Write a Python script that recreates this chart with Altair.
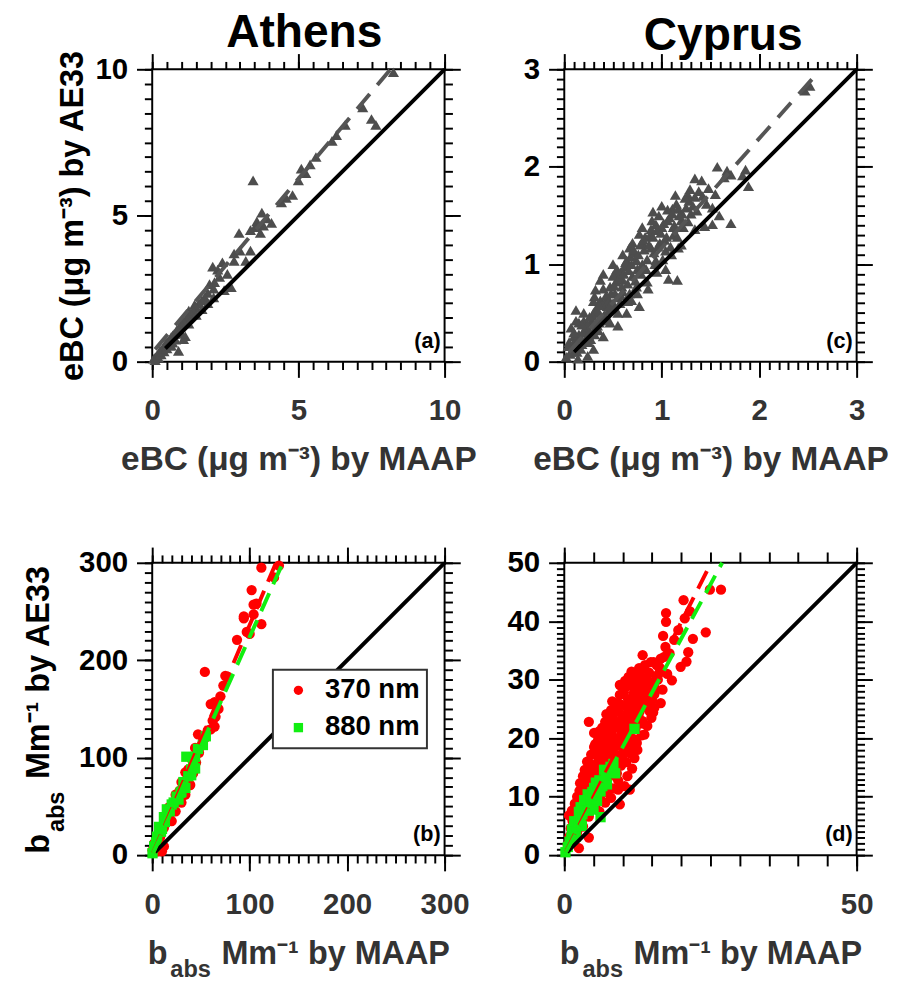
import altair as alt
import pandas as pd

FONT = "Liberation Sans"
W = 298
H = 298

# ---------------- (a) Athens eBC (MAAP, AE33) ----------------
ath_ebc = [(8.25, 9.9), (7.2, 8.7), (7.5, 8.3), (7.65, 8.1), (6.6, 8.1), (6.3, 7.75), (6.15, 7.55),
           (5.6, 7.0), (5.4, 6.75), (5.1, 6.6), (5.25, 6.45), (5.0, 6.2), (3.45, 6.2), (4.8, 5.7),
           (4.58, 5.6), (4.42, 5.45), (3.75, 5.1), (3.92, 4.9), (4.08, 4.75), (3.58, 4.8), (3.52, 4.6),
           (3.8, 4.65), (3.36, 4.5), (2.97, 4.4), (3.7, 4.4), (3.0, 3.8), (3.36, 3.8), (2.8, 3.7),
           (3.2, 3.45), (2.4, 3.4), (2.07, 3.25), (2.24, 3.15), (2.57, 3.0), (2.8, 3.45), (1.96, 2.65),
           (2.13, 2.72), (2.7, 2.55), (2.46, 2.45), (2.3, 2.9), (2.1, 2.5), (1.9, 2.35), (1.8, 2.2),
           (1.7, 2.1), (1.6, 2.0), (1.5, 1.85), (1.45, 1.95), (1.4, 1.75), (1.3, 1.6), (1.25, 1.75),
           (1.2, 1.5), (1.15, 1.45), (1.1, 1.35), (1.05, 1.4), (1.0, 1.25), (0.95, 1.2), (0.9, 1.1),
           (0.85, 1.1), (0.8, 1.0), (0.75, 0.95), (0.7, 0.9), (0.65, 0.85), (0.6, 0.75), (0.55, 0.7),
           (0.5, 0.65), (0.45, 0.6), (0.4, 0.5), (0.35, 0.45), (0.3, 0.4), (0.25, 0.35), (0.2, 0.25),
           (0.15, 0.2), (0.1, 0.15), (0.05, 0.1), (0.1, 0.05), (0.2, 0.15), (0.3, 0.25), (0.4, 0.35),
           (0.5, 0.45), (0.6, 0.55), (0.7, 0.65), (0.8, 0.75), (1.07, 0.77), (0.9, 0.37), (1.13, 0.87),
           (1.25, 1.3), (1.5, 1.6), (1.7, 1.8), (1.9, 2.0), (2.1, 2.2), (0.65, 0.55), (1.0, 0.95)]
ath_ebc_fit_x = [0.1, 8.15]
ath_ebc_fit_y = [0.42, 10.0]
ath_ebc_one = [0.45, 10.0]

# ---------------- (c) Cyprus eBC ----------------
cyp_ebc = [(2.47, 2.78), (2.52, 2.83), (1.57, 2.0), (1.67, 1.96), (1.71, 1.92), (1.64, 1.89), (1.86, 1.97),
           (1.83, 1.91), (1.89, 1.8), (1.34, 1.88), (1.41, 1.86), (1.29, 1.77), (1.27, 1.71), (1.34, 1.69),
           (1.14, 1.71), (1.11, 1.57), (1.06, 1.56), (1.17, 1.57), (1.21, 1.52), (1.59, 1.5), (1.52, 1.41),
           (1.71, 1.42), (1.44, 1.39), (1.34, 1.36), (0.91, 1.54), (0.94, 1.41), (1.0, 1.38), (1.12, 1.38),
           (0.77, 1.31), (0.8, 1.22), (0.89, 1.17), (1.04, 1.14), (1.17, 1.17), (0.67, 1.17), (0.64, 1.04),
           (0.74, 1.04), (0.94, 1.04), (0.5, 1.0), (0.54, 0.9), (0.4, 0.9), (0.37, 0.84), (0.47, 0.77),
           (0.6, 0.84), (0.74, 0.77), (0.86, 0.75), (1.04, 0.95), (1.07, 0.85), (1.16, 0.84), (0.32, 0.74),
           (0.31, 0.67), (0.37, 0.63), (0.12, 0.53), (0.2, 0.5), (0.3, 0.5), (0.44, 0.57), (0.57, 0.6),
           (0.69, 0.63), (0.77, 0.57), (0.64, 0.5), (0.47, 0.4), (0.55, 0.37), (0.34, 0.37), (0.2, 0.3),
           (0.27, 0.23), (0.4, 0.26), (0.1, 0.26), (0.17, 0.13), (0.3, 0.13), (0.07, 0.1), (0.24, 0.06),
           (0.04, 0.16), (0.14, 0.03),
           (0.08, 0.12), (0.12, 0.2), (0.15, 0.28), (0.18, 0.18), (0.22, 0.33), (0.25, 0.27), (0.28, 0.42),
           (0.32, 0.35), (0.35, 0.5), (0.38, 0.44), (0.42, 0.62), (0.45, 0.52), (0.48, 0.7), (0.5, 0.6),
           (0.53, 0.82), (0.55, 0.66), (0.58, 0.92), (0.6, 0.72), (0.62, 0.98), (0.65, 0.8), (0.68, 1.08),
           (0.7, 0.88), (0.72, 1.12), (0.75, 0.95), (0.78, 1.2), (0.8, 1.0), (0.83, 1.28), (0.85, 1.05),
           (0.88, 1.3), (0.92, 1.12), (0.95, 1.35), (0.98, 1.22), (1.02, 1.42), (1.05, 1.28), (1.08, 1.48),
           (1.12, 1.3), (1.15, 1.62), (1.2, 1.45), (1.25, 1.58), (1.3, 1.52), (1.28, 1.65), (0.3, 0.62),
           (0.4, 0.75), (0.5, 0.88), (0.6, 1.1), (0.7, 1.22), (0.8, 1.38), (0.9, 1.45), (1.0, 1.6),
           (0.55, 0.5), (0.65, 0.62), (0.75, 0.7), (0.85, 0.82), (0.95, 0.92), (0.45, 0.42), (0.35, 0.32),
           (0.25, 0.2), (1.1, 1.1), (1.2, 1.2), (0.2, 0.42), (0.15, 0.4), (0.1, 0.3), (0.05, 0.2),
           (0.02, 0.05), (0.06, 0.08), (0.09, 0.18), (0.13, 0.1), (0.16, 0.24), (0.19, 0.3), (0.21, 0.22),
           (0.24, 0.38), (0.26, 0.31), (0.29, 0.47), (0.31, 0.28), (0.33, 0.55), (0.36, 0.4), (0.39, 0.58),
           (0.41, 0.48), (0.43, 0.68), (0.46, 0.63), (0.49, 0.55), (0.51, 0.78), (0.52, 0.7), (0.54, 0.95),
           (0.56, 0.85), (0.59, 0.77), (0.61, 0.9), (0.63, 1.02), (0.66, 0.94), (0.67, 0.7), (0.69, 1.0),
           (0.71, 1.15), (0.73, 0.83), (0.76, 1.1), (0.79, 0.9), (0.81, 1.25), (0.82, 1.15), (0.84, 0.95),
           (0.87, 1.2), (0.89, 1.36), (0.91, 1.28), (0.93, 1.0), (0.96, 1.18), (0.97, 1.5), (0.99, 1.32),
           (1.01, 1.05), (1.03, 1.25), (1.06, 1.45), (1.09, 1.18), (1.11, 1.52), (1.13, 1.4), (1.16, 1.28),
           (1.18, 1.5), (1.22, 1.38), (1.24, 1.68), (1.27, 1.44), (1.32, 1.6), (1.36, 1.55), (1.38, 1.75),
           (1.42, 1.7), (1.46, 1.62), (1.48, 1.78), (1.52, 1.58), (1.55, 1.72), (0.58, 0.68), (0.47, 0.58),
           (0.36, 0.58), (0.26, 0.46), (0.18, 0.38), (0.12, 0.42), (0.07, 0.35)]
cyp_ebc_fit_x = [0.05, 2.57]
cyp_ebc_fit_y = [0.1, 2.93]
cyp_ebc_one = [0.1, 3.0]

# ---------------- (b) Athens b_abs ----------------
ath_370 = [(0.3, 5), (2, 12), (5, 4), (7, 15), (10, 25), (10, 4), (12, 9), (14, 35), (17, 49), (20, 35),
           (24, 45), (24, 62), (30, 54), (34, 62), (30, 75), (39, 72), (34, 85), (42, 84), (40, 99),
           (45, 95), (44, 110), (47, 124), (54, 120), (60, 129), (64, 132), (65, 142), (60, 155),
           (64, 157), (73, 174), (75, 184), (54, 188), (77, 183), (87, 221), (94, 245), (97, 229),
           (104, 257), (102, 272), (112, 237), (100, 227), (104, 247), (107, 258), (112, 295), (125, 285),
           (130, 297), (94, 243), (3, 8), (8, 18), (12, 28), (16, 38), (18, 42), (22, 52), (26, 58),
           (28, 66), (32, 70), (36, 78), (37, 88), (43, 96), (48, 105), (50, 112), (52, 117), (57, 128),
           (62, 138), (68, 150), (70, 163)]
ath_880 = [(0.3, 2), (2, 9), (4, 13), (5, 19), (7, 29), (10, 27), (12, 39), (15, 47), (20, 52), (22, 54),
           (27, 57), (29, 64), (30, 65), (34, 69), (37, 81), (40, 82), (40, 88), (44, 89), (35, 101),
           (44, 101), (47, 109), (52, 113), (55, 122), (25, 60), (18, 45), (9, 24), (13, 34), (32, 75),
           (42, 95)]
ath_370_fit_x = [1, 127]
ath_370_fit_y = [2.4, 300]
ath_880_fit_x = [1, 134]
ath_880_fit_y = [2.2, 300]
ath_babs_one = [3, 300]

# ---------------- (d) Cyprus b_abs ----------------
cyp_370 = [(0.6, 1.8), (0.9, 3.2), (1.1, 4.6), (1.4, 5.9), (0.8, 6.8), (1.6, 7.4), (2.1, 3.4), (2.3, 5.1),
           (2.0, 6.3), (2.6, 7.2), (2.4, 8.6), (2.9, 9.5), (2.6, 11.0), (3.2, 4.9), (3.4, 6.7), (3.1, 8.1),
           (3.6, 9.2), (3.3, 10.4), (3.8, 11.6), (3.4, 12.8), (3.5, 14.6), (4.2, 6.6), (4.0, 8.3),
           (4.5, 9.9), (4.1, 11.2), (4.6, 12.3), (4.3, 13.5), (4.8, 14.4), (4.4, 15.7), (4.2, 22.8),
           (5.1, 20.9), (5.3, 8.4), (5.0, 10.6), (5.5, 11.8), (5.2, 13.1), (5.7, 14.2), (5.4, 15.3),
           (5.9, 16.4), (5.6, 17.6), (5.1, 18.5), (6.2, 9.6), (6.5, 11.3), (6.1, 12.7), (6.7, 13.9),
           (6.3, 15.0), (6.8, 16.2), (6.2, 17.3), (6.6, 18.4), (6.4, 19.3), (6.9, 20.4), (6.0, 21.2),
           (7.3, 10.8), (7.1, 12.9), (7.6, 14.6), (7.2, 15.8), (7.8, 16.9), (7.4, 18.0), (7.9, 19.1),
           (7.3, 20.2), (7.7, 21.3), (7.5, 22.5), (7.9, 23.2), (7.2, 24.1), (8.3, 11.4), (8.6, 13.7),
           (8.2, 15.5), (8.7, 17.2), (8.4, 18.6), (8.9, 19.8), (8.1, 20.6), (8.5, 21.7), (8.8, 22.8),
           (8.3, 23.9), (8.6, 25.2), (8.2, 26.3), (9.2, 12.8), (9.5, 8.7), (9.7, 15.3), (9.1, 17.1),
           (9.6, 18.7), (9.3, 20.1), (9.8, 21.2), (9.4, 22.4), (9.9, 23.5), (9.2, 24.6), (9.6, 25.8),
           (9.5, 27.4), (9.5, 29.1), (10.3, 11.8), (10.6, 15.9), (10.2, 17.8), (10.7, 19.6), (10.4, 20.8),
           (10.9, 22.1), (10.3, 23.2), (10.8, 24.3), (10.5, 25.5), (10.9, 26.7), (10.2, 27.8),
           (10.7, 28.9), (11.2, 11.2), (11.6, 14.8), (11.3, 17.4), (11.8, 19.9), (11.4, 21.8),
           (11.9, 23.0), (11.2, 24.2), (11.7, 25.4), (11.5, 26.5), (11.9, 27.7), (11.5, 31.4),
           (11.3, 29.0), (12.0, 16.6), (12.4, 19.2), (12.2, 21.7), (12.7, 23.8), (12.3, 25.1),
           (12.8, 26.2), (12.1, 27.4), (12.6, 28.5), (12.4, 29.6), (12.0, 30.4), (12.6, 23.2),
           (13.2, 20.5), (13.7, 20.6), (13.4, 22.9), (13.1, 25.3), (13.6, 26.8), (13.3, 28.0),
           (13.8, 29.1), (13.5, 30.2), (13.4, 34.2), (13.0, 31.5), (14.2, 22.1), (14.6, 24.6),
           (14.3, 27.2), (14.8, 28.6), (14.1, 30.3), (14.5, 31.2), (15.2, 24.4), (15.4, 25.2),
           (15.4, 27.5), (15.1, 29.4), (15.8, 30.6), (15.3, 33.0), (16.5, 33.6), (17.1, 33.9),
           (17.3, 35.6), (16.2, 31.1), (16.8, 28.3), (17.4, 39.9), (17.4, 41.4), (18.4, 29.9),
           (19.9, 32.2), (20.9, 33.1), (21.2, 34.7), (21.5, 41.7), (20.4, 43.6), (24.2, 38.1),
           (24.9, 45.4), (26.8, 45.4), (11.5, 19.0), (4.2, 3.0), (2.5, 1.2), (9.2, 11.2),
           (2.2, 4.0), (2.8, 5.2), (3.0, 6.0), (3.6, 7.3), (4.4, 8.2), (4.9, 9.0), (5.8, 10.4), (6.4, 12.0),
           (6.9, 12.5), (7.6, 13.4), (7.0, 17.0), (7.5, 17.5), (8.0, 18.0), (8.8, 16.0), (9.0, 14.0),
           (9.9, 16.8), (10.0, 19.0), (10.5, 18.5), (11.0, 20.5), (11.1, 23.5), (11.6, 22.6), (12.2, 24.5),
           (12.9, 24.6), (13.0, 27.0), (13.9, 27.5), (14.0, 25.8), (14.4, 29.5), (15.0, 26.5), (15.5, 28.5),
           (16.0, 30.0), (16.4, 32.0), (15.8, 32.5), (14.8, 33.0), (13.8, 32.5), (12.8, 32.0), (12.3, 31.0),
           (11.0, 30.5), (10.4, 29.8), (9.1, 26.0), (8.0, 24.8), (7.0, 22.8), (6.5, 21.8), (5.8, 19.8),
           (5.3, 19.0), (4.6, 17.2), (3.9, 16.0), (3.2, 13.5), (2.7, 12.3), (2.2, 10.0), (1.8, 8.8),
           (1.3, 7.6), (6.0, 7.5), (7.0, 9.0), (8.0, 9.8), (10.8, 13.5), (12.5, 18.0), (13.5, 22.5),
           (14.9, 23.5), (16.5, 26.0), (17.6, 31.0), (18.0, 34.5), (18.8, 36.8), (16.9, 37.5),
           (19.5, 38.5), (22.0, 37.0), (20.6, 40.5)]
cyp_880 = [(0.2, 0.5), (0.6, 1.4), (0.9, 2.3), (1.2, 2.9), (1.5, 3.6), (1.3, 4.4), (1.8, 4.1), (2.1, 4.9),
           (1.7, 5.8), (2.4, 5.6), (2.8, 6.3), (2.5, 7.4), (3.1, 7.0), (2.8, 8.2), (3.5, 7.9), (3.9, 8.6),
           (3.4, 9.4), (4.2, 7.6), (4.0, 10.4), (4.5, 9.6), (4.8, 10.8), (5.1, 11.5), (5.6, 9.3),
           (5.4, 12.4), (6.2, 10.9), (6.0, 12.8), (6.5, 11.8), (6.8, 14.6), (7.3, 12.1), (7.1, 13.6),
           (7.9, 15.1), (8.3, 14.8), (8.7, 14.0), (8.4, 15.6), (6.2, 6.5), (12.0, 21.6), (3.0, 5.0),
           (5.0, 7.8), (2.0, 3.2)]
cyp_370_fit_x = [0.3, 25.1]
cyp_370_fit_y = [0.6, 50]
cyp_880_fit_x = [0.3, 27.0]
cyp_880_fit_y = [0.55, 50]
cyp_babs_one = [0.5, 50]

# ---------------- tick values (major, minor) ----------------
ath_ebc_major = [0, 5, 10]
ath_ebc_minor = [round(i * 0.5, 1) for i in range(21)]
cyp_ebc_major = [0, 1, 2, 3]
cyp_ebc_minor = [round(i * 0.1, 1) for i in range(31)]
ath_babs_major = [0, 100, 200, 300]
ath_babs_minor = [i * 10 for i in range(31)]
cyp_babs_x_major = [0, 50]
cyp_babs_x_minor = [i * 5 for i in range(11)]
cyp_babs_y_major = [0, 10, 20, 30, 40, 50]
cyp_babs_y_minor = [i for i in range(51)]

BIG = 16
XCOL = "#333333"


def tick_axis(orient, vals, size, **kw):
    base = dict(orient=orient, values=vals, tickSize=size, tickWidth=2, tickColor="black",
                domain=False, grid=False)
    if "labels" not in kw:
        kw["labels"] = False
    if "title" not in kw:
        kw["title"] = None
    base.update(kw)
    return alt.Axis(**base)


def title_only(orient, text, size, color, **pos):
    kw = dict(orient=orient, ticks=False, labels=False, domain=False, grid=False, title=text,
              titleFont=FONT, titleFontWeight="bold", titleFontSize=size, titleColor=color,
              titleAlign="left", titleBaseline="alphabetic")
    if orient == "left":
        kw["titleAngle"] = 270
    kw.update(pos)
    return alt.Axis(**kw)


def x_major(vals, title, tfs, split):
    pos = dict(titleAlign="left", titleX=70) if split else dict(titleAlign="center", titleX=W / 2)
    return tick_axis("bottom", vals, BIG, labels=True, format=".0f", labelOverlap=False, labelFlush=False,
                     labelFont=FONT, labelFontWeight="bold", labelFontSize=30, labelColor=XCOL,
                     labelBaseline="alphabetic", labelPadding=43,
                     title=title, titleFont=FONT, titleFontWeight="bold", titleFontSize=tfs,
                     titleColor=XCOL, titleY=110, titleBaseline="alphabetic", **pos)


def y_major(vals, title, tfs, tx, split):
    kw = dict(labels=True, format=".0f", labelOverlap=False, labelFlush=False,
              labelFont=FONT, labelFontWeight="bold", labelFontSize=30, labelColor="black",
              labelAlign="right", labelBaseline="middle", labelPadding=9)
    if title:
        pos = dict(titleAlign="left", titleY=220) if split else dict(titleAlign="center", titleY=H / 2)
        kw.update(dict(title=title, titleFont=FONT, titleFontWeight="bold", titleFontSize=tfs,
                       titleColor="black", titleAngle=270, titleX=tx, titleBaseline="alphabetic", **pos))
    return tick_axis("left", vals, BIG, **kw)


def panel(dom, xmaj, xmin, ymaj, ymin, xsmall, ysmall, pts_df, pts_mark, pts_enc,
          one, fits, xtitle, ytitle, xfs, yfs, ytx, label, sub=False, sub_y=False, title=None):
    sc = alt.Scale(domain=dom, nice=False, zero=False)
    pts = alt.Chart(pts_df).mark_point(**pts_mark).encode(
        x=alt.X("x:Q", scale=sc, axis=x_major(xmaj, xtitle, xfs, sub)),
        y=alt.Y("y:Q", scale=sc, axis=y_major(ymaj, ytitle, yfs, ytx, sub_y)),
        **pts_enc)
    one_df = pd.DataFrame({"x": one, "y": one})
    one_l = alt.Chart(one_df).mark_line(color="black", strokeWidth=4).encode(
        x=alt.X("x:Q", scale=sc, axis=tick_axis("top", xmaj, BIG)),
        y=alt.Y("y:Q", scale=sc, axis=tick_axis("right", ymaj, BIG)))
    layers = [pts, one_l]
    for i, (fx, fy, col, dash) in enumerate(fits):
        fdf = pd.DataFrame({"x": fx, "y": fy})
        if i == 0:
            xkw = dict(title="abs", titleFont=FONT, titleFontWeight="bold", titleFontSize=24,
                       titleColor=XCOL, titleX=18, titleY=124, titleAlign="left",
                       titleBaseline="alphabetic") if sub else {}
            ykw = dict(title="abs", titleFont=FONT, titleFontWeight="bold", titleFontSize=24,
                       titleColor="black", titleAngle=270, titleX=-90, titleY=274, titleAlign="left",
                       titleBaseline="alphabetic") if sub_y else {}
            xa = tick_axis("bottom", xmin, xsmall, **xkw)
            ya = tick_axis("left", ymin, ysmall, **ykw)
        else:
            xa = title_only("bottom", "b", xfs, XCOL, titleX=-5, titleY=110) if sub else None
            ya = title_only("left", "b", yfs, "black", titleX=ytx, titleY=296) if sub_y else None
        layers.append(alt.Chart(fdf).mark_line(color=col, strokeWidth=4, strokeDash=dash).encode(
            x=alt.X("x:Q", scale=sc, axis=xa), y=alt.Y("y:Q", scale=sc, axis=ya)))
    lab_df = pd.DataFrame({"x": [dom[1]], "y": [dom[0]], "t": [label]})
    lab = alt.Chart(lab_df).mark_text(
        align="right", baseline="alphabetic", font=FONT, fontWeight="bold", fontSize=22, color="black",
        dx=-4, dy=-14
    ).encode(x=alt.X("x:Q", scale=sc, axis=tick_axis("top", xmin, xsmall)),
             y=alt.Y("y:Q", scale=sc, axis=tick_axis("right", ymin, ysmall)), text="t:N")
    layers.append(lab)
    ch = alt.layer(*layers).resolve_axis(x="independent", y="independent")
    props = dict(width=W, height=H)
    if title:
        props["title"] = title
    return ch.properties(**props)


def to_df(pairs, name=None):
    d = pd.DataFrame({"x": [p[0] for p in pairs], "y": [p[1] for p in pairs]})
    if name:
        d["wl"] = name
    return d


tri_mark = dict(shape="triangle-up", filled=True, color="#4d4d4d", size=130, opacity=1)
GRAY = "#555555"
RED = "#ff0000"
GREEN = "#11ee11"

ebc_x_title = "eBC (\u03bcg m\u207b\u00b3) by MAAP"
ebc_y_title = "eBC (\u03bcg m\u207b\u00b3) by AE33"
babs_x_title = "Mm\u207b\u00b9 by MAAP"
babs_y_title = "Mm\u207b\u00b9 by AE33"

TOFF = -44
title_a = alt.TitleParams(text="Athens", font=FONT, fontSize=47, fontWeight="bold", color="black",
                          anchor="middle", frame="group", dx=6, offset=TOFF, baseline="alphabetic")
title_c = alt.TitleParams(text="Cyprus", font=FONT, fontSize=47, fontWeight="bold", color="black",
                          anchor="middle", frame="group", dx=13, offset=TOFF, baseline="alphabetic")

pa = panel([0, 10], ath_ebc_major, ath_ebc_minor, ath_ebc_major, ath_ebc_minor, 8, 8, to_df(ath_ebc),
           tri_mark, {}, ath_ebc_one, [(ath_ebc_fit_x, ath_ebc_fit_y, GRAY, [20, 12])],
           ebc_x_title, ebc_y_title, 34, 33, -71, "(a)", title=title_a)
pc = panel([0, 3], cyp_ebc_major, cyp_ebc_minor, cyp_ebc_major, cyp_ebc_minor, 8, 8, to_df(cyp_ebc),
           tri_mark, {}, cyp_ebc_one, [(cyp_ebc_fit_x, cyp_ebc_fit_y, GRAY, [20, 12])],
           ebc_x_title, None, 34, 33, -71, "(c)", title=title_c)

wl_dom = ["370 nm", "880 nm"]
leg = alt.Legend(title=None, orient="none", legendX=123, legendY=109, direction="vertical",
                 strokeColor="#333333", fillColor="white", padding=7,
                 labelFont=FONT, labelFontWeight="bold", labelFontSize=28, labelColor="black",
                 labelOffset=13, symbolSize=90, symbolOffset=5, symbolStrokeWidth=0, rowPadding=10,
                 labelLimit=300, cornerRadius=0)
enc_b = dict(color=alt.Color("wl:N", scale=alt.Scale(domain=wl_dom, range=[RED, GREEN]), legend=leg),
             shape=alt.Shape("wl:N", scale=alt.Scale(domain=wl_dom, range=["circle", "square"]), legend=leg))
enc_d = dict(color=alt.Color("wl:N", scale=alt.Scale(domain=wl_dom, range=[RED, GREEN]), legend=None),
             shape=alt.Shape("wl:N", scale=alt.Scale(domain=wl_dom, range=["circle", "square"]), legend=None))
pt_mark = dict(filled=True, size=110, opacity=1)

df_b = pd.concat([to_df(ath_370, "370 nm"), to_df(ath_880, "880 nm")], ignore_index=True)
df_d = pd.concat([to_df(cyp_370, "370 nm"), to_df(cyp_880, "880 nm")], ignore_index=True)

pb = panel([0, 300], ath_babs_major, ath_babs_minor, ath_babs_major, ath_babs_minor, 8, 8, df_b, pt_mark,
           enc_b, ath_babs_one,
           [(ath_370_fit_x, ath_370_fit_y, RED, [20, 10]), (ath_880_fit_x, ath_880_fit_y, GREEN, [20, 10])],
           babs_x_title, babs_y_title, 33, 33, -106, "(b)", sub=True, sub_y=True)
pd_ = panel([0, 50], cyp_babs_x_major, cyp_babs_x_minor, cyp_babs_y_major, cyp_babs_y_minor, 11, 8, df_d,
            pt_mark, enc_d, cyp_babs_one,
            [(cyp_370_fit_x, cyp_370_fit_y, RED, [20, 10]), (cyp_880_fit_x, cyp_880_fit_y, GREEN, [20, 10])],
            babs_x_title, None, 33, 33, -106, "(d)", sub=True, sub_y=False)

chart = alt.concat(pa, pc, pb, pd_, columns=2, spacing={"row": 69, "column": 28}).resolve_scale(
    color="independent", shape="independent"
).configure_view(stroke="black", strokeWidth=2).configure_legend(strokeWidth=2).properties(
    padding={"left": 13, "top": -9, "right": 0, "bottom": 0}, background="white")

chart.save("out.html", embed_options={"renderer": "svg", "actions": False})
